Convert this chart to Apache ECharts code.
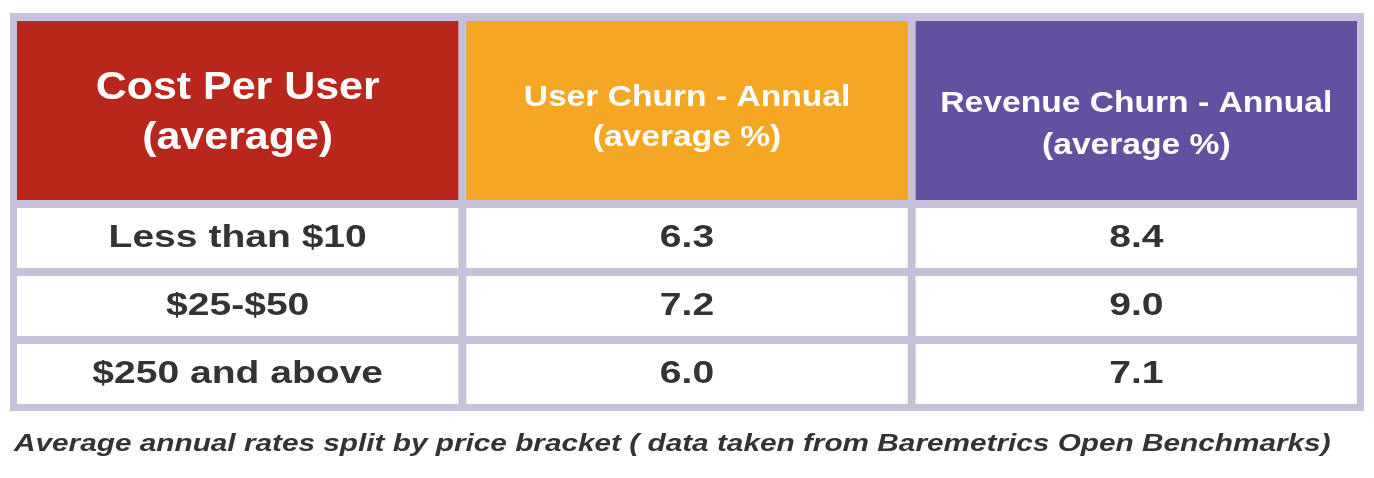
<!DOCTYPE html>
<html><head><meta charset="utf-8">
<script src="https://cdn.jsdelivr.net/npm/echarts@6/dist/echarts.min.js"></script>
<style>html,body{margin:0;background:#fff}#c{width:1374px;height:478px}</style>
</head><body><div id="c"></div>
<script>
// table content
const headers = ['Cost Per User\n(average)', 'User Churn - Annual\n(average %)', 'Revenue Churn - Annual\n(average %)'];
const brackets = ['Less than $10', '$25-$50', '$250 and above'];
const userChurn = [6.3, 7.2, 6.0];
const revenueChurn = [8.4, 9.0, 7.1];
const caption = 'Average annual rates split by price bracket ( data taken from Baremetrics Open Benchmarks)';

const headerColors = ['#b9261c', '#f5a623', '#6450a0'];
const headerSizes = [38, 30, 30];
const headerScale = [1.13, 1.12, 1.12];
const headerShift = [3, 7, 14];
const headerLine = [50, 40, 42];
const rowHeights = [187, 68, 68, 68];
const edges = [0];
rowHeights.forEach(h => edges.push(edges[edges.length - 1] + h));

const cells = [];
headers.forEach((h, c) => cells.push([c, 0, h]));
brackets.forEach((b, r) => {
  cells.push([0, r + 1, b]);
  cells.push([1, r + 1, userChurn[r].toFixed(1)]);
  cells.push([2, r + 1, revenueChurn[r].toFixed(1)]);
});

const FONT = '"Liberation Sans", Arial, sans-serif';
const chart = echarts.init(document.getElementById('c'));
chart.setOption({
  animation: false,
  grid: { left: 13, width: 1348, top: 17, height: 391 },
  xAxis: { type: 'category', data: [0, 1, 2], show: false },
  yAxis: { type: 'value', min: 0, max: edges[edges.length - 1], inverse: true, show: false },
  graphic: [
    { type: 'rect', z: -1, shape: { x: 10, y: 13, width: 1354, height: 398 }, style: { fill: '#c6c1d9' } },
    { type: 'text', x: 14, y: 444, scaleX: 1.24, style: { text: caption, fontFamily: FONT, fontSize: 24, fontWeight: 'bold', fontStyle: 'italic', fill: '#333', verticalAlign: 'middle' } }
  ],
  series: [{
    type: 'custom',
    data: cells,
    renderItem: (params, api) => {
      const c = api.value(0), r = api.value(1);
      const bw = api.size([1, 0])[0];
      const cx = api.coord([c, 0])[0];
      const y0 = api.coord([c, edges[r]])[1];
      const y1 = api.coord([c, edges[r + 1]])[1];
      const head = r === 0;
      const rect = { x: cx - bw / 2 + 4, y: y0 + 4, width: bw - 8, height: y1 - y0 - 8 };
      return {
        type: 'group',
        children: [
          { type: 'rect', shape: rect, style: { fill: head ? headerColors[c] : '#fff' } },
          { type: 'text',
            x: cx, y: (y0 + y1) / 2 + (head ? headerShift[c] : 0),
            scaleX: head ? headerScale[c] : 1.22,
            style: {
              text: cells[params.dataIndex][2],
              x: 0, y: 0,
              align: 'center', verticalAlign: 'middle',
              fontFamily: FONT, fontWeight: 'bold',
              fontSize: head ? headerSizes[c] : 32,
              lineHeight: head ? headerLine[c] : 36,
              fill: head ? '#fff' : '#333'
          } }
        ]
      };
    }
  }]
});
</script></body></html>
